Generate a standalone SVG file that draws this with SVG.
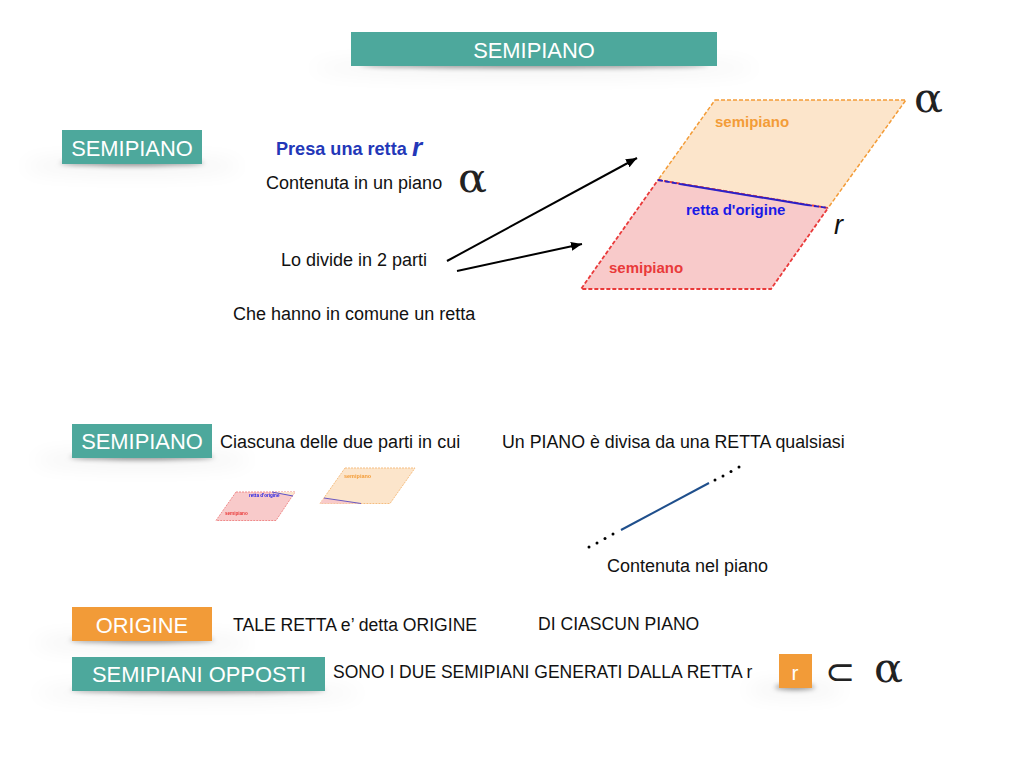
<svg xmlns="http://www.w3.org/2000/svg" width="1024" height="768" viewBox="0 0 1024 768">
<style>
text{font-family:"Liberation Sans",Arial,sans-serif}
.b{font-size:18px;fill:#111}
.c{font-size:17.600px;fill:#111}
.h{font-size:21.900px;fill:#fff;text-anchor:middle}
.t{fill:#4da89c}.o{fill:#f29b38}
.sh{fill:#000;opacity:.42;filter:url(#bl)}
.shw{fill:#000;opacity:.06;filter:url(#bw)}
.al{font-family:"DejaVu Serif","Liberation Serif",serif;fill:#222;font-size:41px}
.ar{stroke:#000;stroke-width:2;fill:none;marker-end:url(#ah)}
.l{font-size:15px;font-weight:bold}
</style>
<defs>
<filter id="bl" x="-20%" y="-200%" width="140%" height="500%"><feGaussianBlur stdDeviation="2.500"/></filter>
<filter id="bw" x="-30%" y="-300%" width="160%" height="700%"><feGaussianBlur stdDeviation="10"/></filter>
<filter id="soft" x="-5%" y="-5%" width="110%" height="110%"><feGaussianBlur stdDeviation=".35"/></filter>
<marker id="ah" markerUnits="userSpaceOnUse" markerWidth="12" markerHeight="11" refX="11" refY="4.500" orient="auto"><path d="M0 0L11 4.500L0 9z" fill="#000"/></marker>
</defs>
<rect width="1024" height="768" fill="#fff"/>

<g id="title"><ellipse class="shw" cx="534" cy="68" rx="225" ry="7"/><ellipse class="sh" cx="534" cy="65" rx="175" ry="3"/><rect class="t" x="351" y="32" width="366" height="34"/><text class="h" x="534" y="58">SEMIPIANO</text></g>
<g id="label-semipiano-1"><ellipse class="shw" cx="132" cy="166" rx="110" ry="7"/><ellipse class="sh" cx="132" cy="163" rx="72" ry="3"/><rect class="t" x="62" y="130" width="140" height="34"/><text class="h" x="132" y="156">SEMIPIANO</text></g>
<g id="label-semipiano-2"><ellipse class="shw" cx="142" cy="460" rx="110" ry="7"/><ellipse class="sh" cx="142" cy="457" rx="72" ry="3"/><rect class="t" x="72" y="424" width="140" height="34"/><text class="h" x="142" y="449">SEMIPIANO</text></g>
<g id="label-origine"><ellipse class="shw" cx="142" cy="643" rx="110" ry="7"/><ellipse class="sh" cx="142" cy="640" rx="72" ry="3"/><rect class="o" x="72" y="607" width="140" height="34"/><text class="h" x="142" y="633">ORIGINE</text></g>
<g id="label-opposti"><ellipse class="shw" cx="198" cy="693" rx="165" ry="7"/><ellipse class="sh" cx="198" cy="690" rx="128" ry="3"/><rect class="t" x="72" y="657" width="253" height="34"/><text class="h" x="199" y="682">SEMIPIANI OPPOSTI</text></g>
<g id="box-r"><ellipse class="shw" cx="795" cy="690" rx="50" ry="6"/><ellipse class="sh" cx="795" cy="687" rx="20" ry="3"/><rect class="o" x="779" y="654" width="33" height="34"/><text class="h" x="795" y="680" style="font-size:21px">r</text></g>

<g id="text-block">
<text x="276" y="155" style="font-size:18.100px;font-weight:bold;fill:#2337b8">Presa una retta</text>
<text x="412" y="156" style="font-size:26px;font-weight:bold;font-style:italic;fill:#2337b8">r</text>
<text class="b" x="266" y="189">Contenuta in un piano</text>
<text class="b" x="281" y="266">Lo divide in 2 parti</text>
<text class="b" x="233" y="320">Che hanno in comune un retta</text>
<text class="b" x="220" y="448">Ciascuna delle due parti in cui</text>
<text class="b" x="502" y="448" style="font-size:17.800px">Un PIANO è divisa da una RETTA qualsiasi</text>
<text class="b" x="607" y="572">Contenuta nel piano</text>
<text class="c" x="233" y="631">TALE RETTA e’ detta ORIGINE</text>
<text class="c" x="538" y="630">DI CIASCUN PIANO</text>
<text class="c" x="333" y="678" style="font-size:17.500px">SONO I DUE SEMIPIANI GENERATI DALLA RETTA r</text>
<text class="al" x="458" y="192" textLength="29" lengthAdjust="spacingAndGlyphs">α</text>
<text class="al" x="914" y="112" textLength="29" lengthAdjust="spacingAndGlyphs">α</text>
<text class="al" x="874" y="682" textLength="29" lengthAdjust="spacingAndGlyphs">α</text>
<text x="825" y="684" style="font-family:'DejaVu Sans',sans-serif;font-size:36px;fill:#222">⊂</text>
<text x="834" y="234" style="font-size:27px;font-style:italic;fill:#111">r</text>
</g>

<g id="plane-big">
<path d="M715 100H906L828 208L658 180z" fill="#fce5cb" stroke="#f39c38" stroke-width="1.500" stroke-dasharray="4 2"/>
<path d="M658 180L828 208L771 289H581z" fill="#f8caca" stroke="#e93a3a" stroke-width="1.800" stroke-dasharray="4 2"/>
<path d="M658 180L680 184" stroke="#2b20c8" stroke-width="1.800" stroke-dasharray="5 2" fill="none"/>
<path d="M680 184L807 205" stroke="#2b20c8" stroke-width="2" fill="none"/>
<path d="M807 205L828 208" stroke="#2b20c8" stroke-width="1.800" stroke-dasharray="5 2" fill="none"/>
<text class="l" x="715" y="127" style="fill:#f39c38">semipiano</text>
<text class="l" x="686" y="215" style="fill:#1a1ae6">retta d'origine</text>
<text class="l" x="609" y="273" style="fill:#e93a3a">semipiano</text>
</g>

<g id="plane-small-red" filter="url(#soft)">
<path d="M236 492H295L276 520.500H216z" fill="#f8caca" stroke="#ef8a8a" stroke-dasharray="2 1"/>
<path d="M272 492H295L292 496z" fill="#fce5cb"/>
<path d="M272 492L293 496" stroke="#5a50c8" fill="none"/>
<text x="249" y="497" style="font-size:4.600px;font-weight:bold;fill:#1a1ae6">retta d'origine</text>
<text x="225" y="515" style="font-size:4.600px;font-weight:bold;fill:#e93a3a">semipiano</text>
</g>
<g id="plane-small-orange" filter="url(#soft)">
<path d="M345 468H415L390 503.500H320z" fill="#fce5cb" stroke="#f5bd80" stroke-dasharray="2 1"/>
<path d="M324 498L361 503.500H320z" fill="#f8caca"/>
<path d="M324 498L361 503.500" stroke="#6a5ac0" fill="none"/>
<text x="344" y="478" style="font-size:5.500px;font-weight:bold;fill:#f39c38">semipiano</text>
</g>

<g id="line-r">
<path d="M621 530L709 483" stroke="#1f4f8c" stroke-width="2" fill="none"/>
<g fill="#000"><circle cx="589" cy="547" r="1.500"/><circle cx="597" cy="543" r="1.500"/><circle cx="605" cy="538.500" r="1.500"/><circle cx="613" cy="534" r="1.500"/><circle cx="715" cy="480" r="1.500"/><circle cx="723" cy="476" r="1.500"/><circle cx="731" cy="471.500" r="1.500"/><circle cx="739" cy="467" r="1.500"/></g>
</g>

<g id="connectors">
<path class="ar" d="M447 261L637 158"/>
<path class="ar" d="M457 271L582 244"/>
</g>
</svg>
